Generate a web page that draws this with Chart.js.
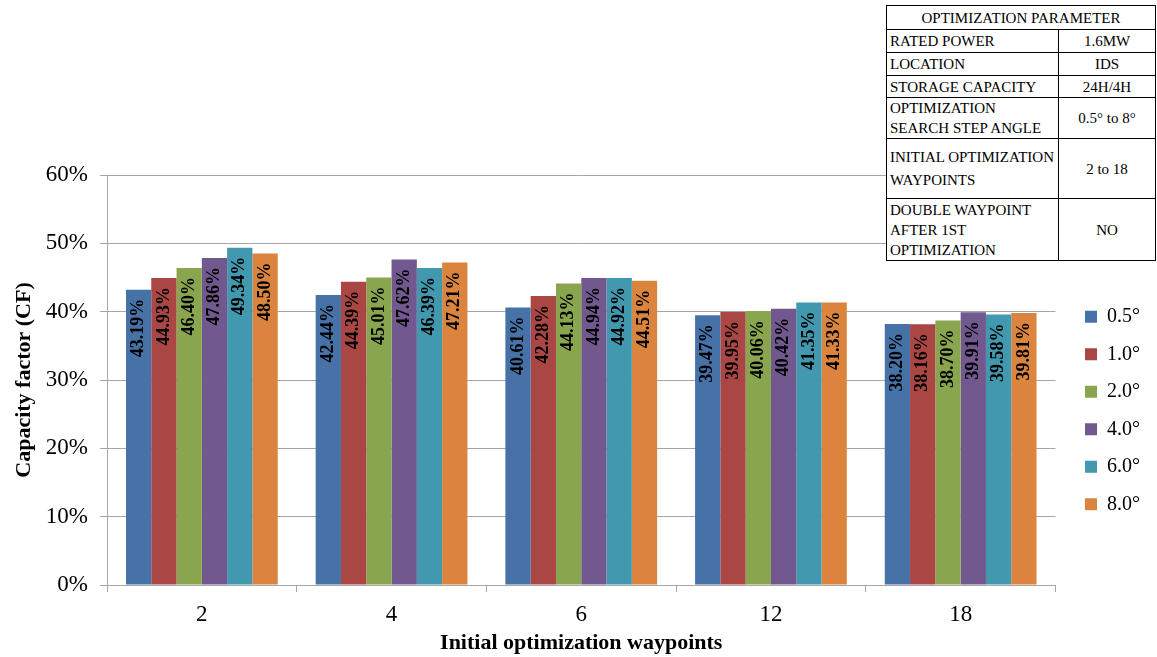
<!DOCTYPE html>
<html lang="en">
<head>
  <meta charset="UTF-8" />
  <title>Capacity factor vs initial optimization waypoints</title>
  <script src="https://cdn.jsdelivr.net/npm/chart.js"></script>
  <style>
    body {
      margin: 0;
      background: #fff;
      font-family: 'Liberation Serif', 'Times New Roman', serif;
    }
    #wrap {
      position: relative;
      width: 1157px;
      height: 657px;
    }
    #params {
      position: absolute;
      left: 886px;
      top: 5px;
      width: 270px;
      border-collapse: collapse;
      background: #fff;
      font-size: 15px;
      line-height: 20px;
      color: #000;
    }
    #params td {
      border: 1px solid #000;
      padding: 0 3px;
      vertical-align: middle;
    }
    #params td.val { text-align: center; width: 90px; }
    #params td.head { text-align: center; }
  </style>
</head>
<body>
  <div id="wrap">
    <canvas id="cfChart" width="1157" height="657"></canvas>
    <table id="params">
      <tr style="height:24px"><td class="head" colspan="2">OPTIMIZATION PARAMETER</td></tr>
      <tr style="height:23px"><td>RATED POWER</td><td class="val">1.6MW</td></tr>
      <tr style="height:23px"><td>LOCATION</td><td class="val">IDS</td></tr>
      <tr style="height:22px"><td>STORAGE CAPACITY</td><td class="val">24H/4H</td></tr>
      <tr style="height:40px"><td>OPTIMIZATION<br>SEARCH STEP ANGLE</td><td class="val">0.5° to 8°</td></tr>
      <tr style="height:60px"><td style="line-height:23px">INITIAL OPTIMIZATION<br>WAYPOINTS</td><td class="val">2 to 18</td></tr>
      <tr style="height:62px"><td>DOUBLE WAYPOINT<br>AFTER 1ST<br>OPTIMIZATION</td><td class="val">NO</td></tr>
    </table>
  </div>

  <script>
    const waypoints = ['2', '4', '6', '12', '18'];
    const stepAngles = ['0.5°', '1.0°', '2.0°', '4.0°', '6.0°', '8.0°'];
    const colors = ['#4672a8', '#aa4643', '#89a54e', '#71588f', '#4198af', '#db843d'];

    // capacity factor (%) per step angle, one value per waypoint count
    const cf05 = [43.19, 42.44, 40.61, 39.47, 38.20];
    const cf10 = [44.93, 44.39, 42.28, 39.95, 38.16];
    const cf20 = [46.40, 45.01, 44.13, 40.06, 38.70];
    const cf40 = [47.86, 47.62, 44.94, 40.42, 39.91];
    const cf60 = [49.34, 46.39, 44.92, 41.35, 39.58];
    const cf80 = [48.50, 47.21, 44.51, 41.33, 39.81];
    const series = [cf05, cf10, cf20, cf40, cf60, cf80];

    const yTicks = [0, 10, 20, 30, 40, 50, 60];

    const serif = "'Liberation Serif', 'Times New Roman', serif";
    const gridGray = '#a6a6a6';

    // vertical value labels inside the top of each bar
    const barLabels = {
      id: 'barLabels',
      afterDatasetsDraw(chart) {
        const ctx = chart.ctx;
        ctx.save();
        ctx.font = 'bold 18px ' + serif;
        ctx.fillStyle = '#000';
        ctx.textAlign = 'right';
        ctx.textBaseline = 'middle';
        chart.data.datasets.forEach((ds, i) => {
          chart.getDatasetMeta(i).data.forEach((bar, j) => {
            ctx.save();
            ctx.translate(bar.x, bar.y + 9);
            ctx.rotate(-Math.PI / 2);
            ctx.fillText(ds.data[j].toFixed(2) + '%', 0, 0);
            ctx.restore();
          });
        });
        ctx.restore();
      }
    };

    new Chart(document.getElementById('cfChart'), {
      type: 'bar',
      data: {
        labels: waypoints,
        datasets: stepAngles.map((a, i) => ({
          label: a,
          data: series[i],
          backgroundColor: colors[i],
          borderWidth: 0,
          categoryPercentage: 0.8,
          barPercentage: 1.0
        }))
      },
      options: {
        responsive: false,
        animation: false,
        layout: { padding: { top: 175, right: 7, bottom: 0, left: 0 } },
        plugins: {
          tooltip: { enabled: false },
          legend: {
            position: 'right',
            fullSize: false,
            title: { display: true, text: ' ', padding: 18.5, font: { size: 20, family: serif } },
            labels: {
              boxWidth: 12,
              boxHeight: 12,
              padding: 17.5,
              color: '#000',
              font: { size: 20, family: serif }
            }
          }
        },
        scales: {
          x: {
            grid: {
              drawOnChartArea: false,
              drawTicks: true,
              tickLength: 7,
              color: gridGray
            },
            border: { color: gridGray },
            ticks: { color: '#000', padding: 9, font: { size: 23, family: serif } },
            title: {
              display: true,
              text: 'Initial optimization waypoints',
              color: '#000',
              padding: { top: 0, bottom: 0 },
              font: { size: 22, weight: 'bold', family: serif }
            },
            afterFit(s) { s.height = 72; }
          },
          y: {
            min: 0,
            max: 60,
            afterBuildTicks(s) { s.ticks = yTicks.map(v => ({ value: v })); },
            grid: { color: gridGray, tickLength: 7 },
            border: { color: gridGray },
            ticks: {
              color: '#000',
              padding: 12,
              font: { size: 23, family: serif },
              callback: v => v + '%'
            },
            title: {
              display: true,
              text: 'Capacity factor (CF)',
              color: '#000',
              padding: { top: 11, bottom: 0 },
              font: { size: 22, weight: 'bold', family: serif }
            },
            afterFit(s) { s.width = 107; }
          },
          gap: {
            type: 'linear',
            position: 'right',
            grid: { display: false },
            border: { display: false },
            ticks: { display: false },
            afterFit(s) { s.width = 12; }
          }
        }
      },
      plugins: [barLabels]
    });
  </script>
</body>
</html>
